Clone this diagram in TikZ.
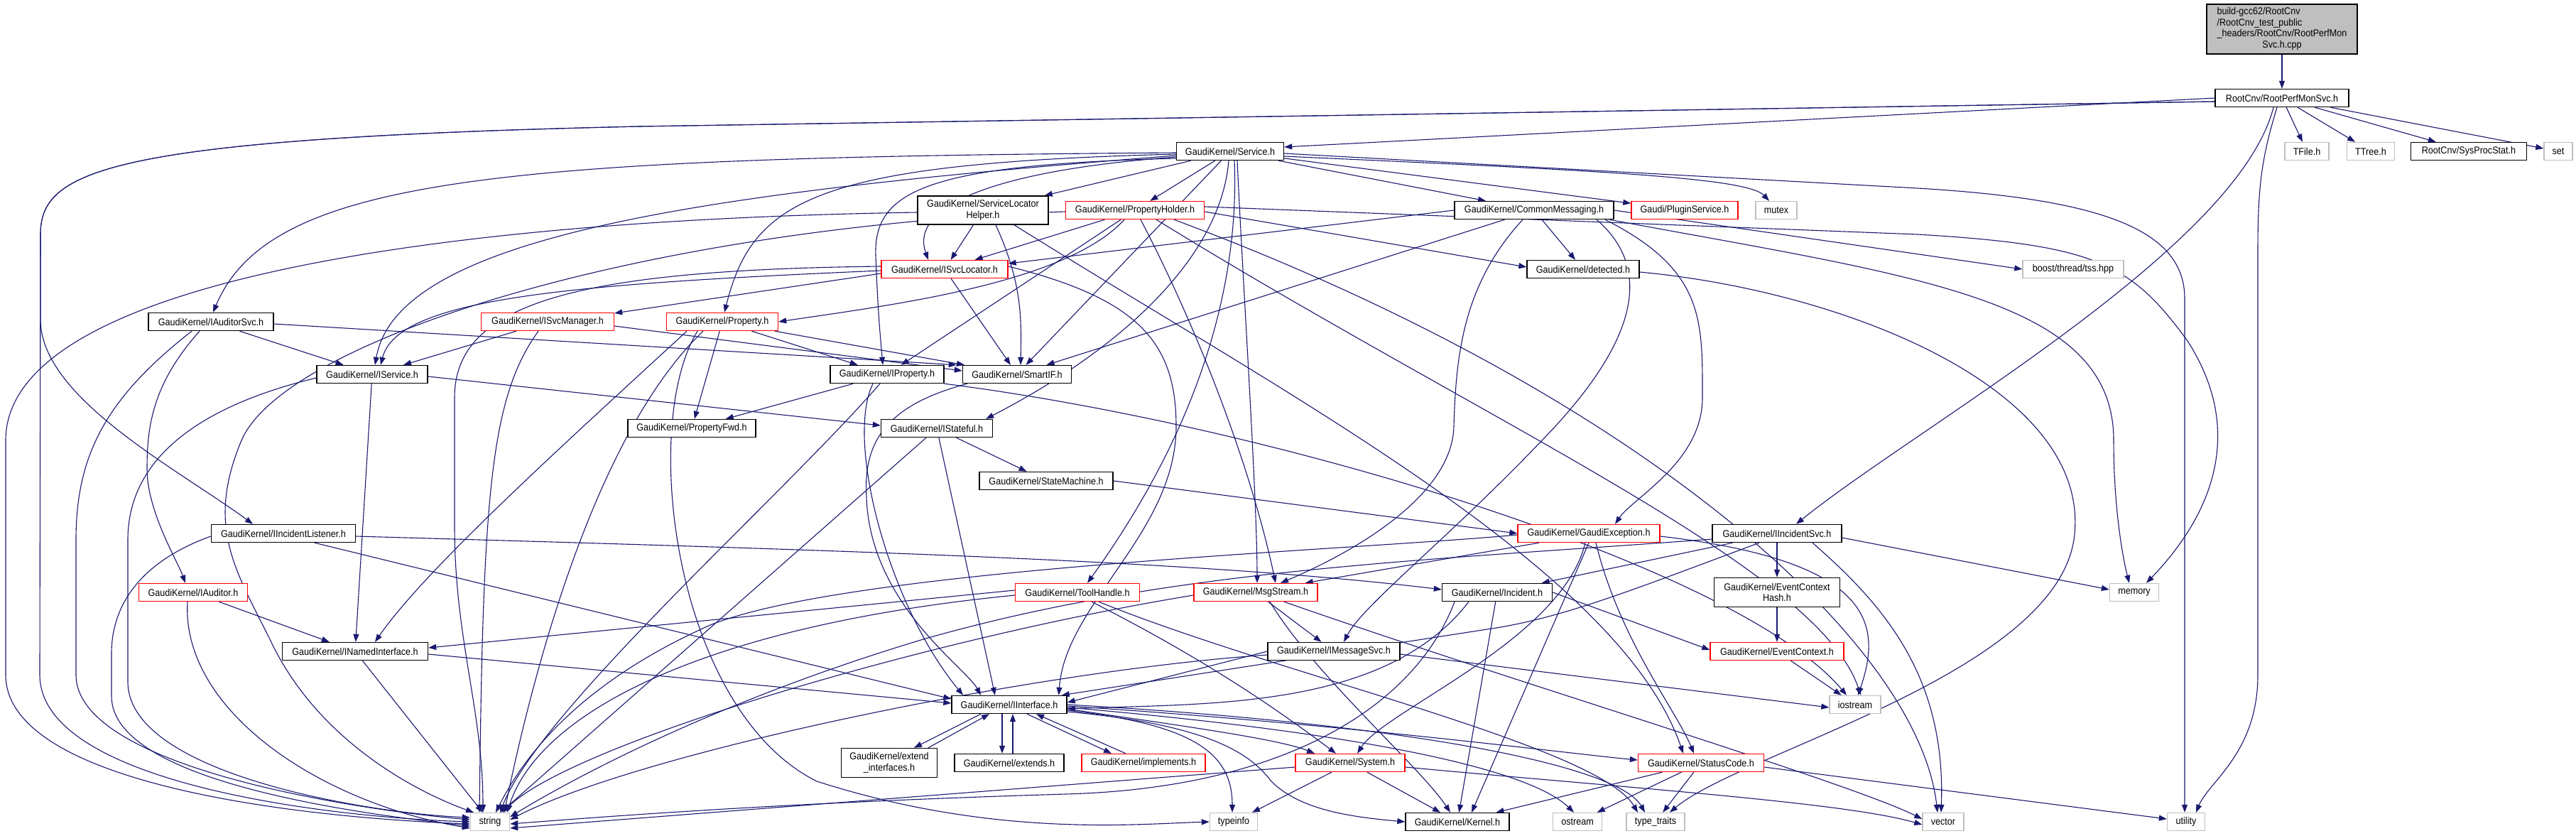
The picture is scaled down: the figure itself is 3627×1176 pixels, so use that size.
\documentclass[tikz,border=0pt]{standalone}
\usepackage{fontspec}
\newfontfamily\gf[FakeStretch=0.9]{Liberation Sans}
\usetikzlibrary{arrows.meta}
\definecolor{edgec}{RGB}{25,25,112}
\definecolor{grayb}{RGB}{191,191,191}
\newcommand\nfont{\gf\fontsize{14}{15.5}\selectfont}
\pgfdeclarelayer{bg}
\pgfdeclarelayer{edges}
\pgfsetlayers{bg,edges,main}
\tikzset{
 nb/.style={rectangle, draw=black, line width=1.4pt, fill=white, inner sep=0pt, minimum height=25pt, font=\nfont, align=center},
 rb/.style={nb, draw=red},
 gb/.style={nb, draw=grayb},
 e/.style={draw=edgec, line width=1.1pt, -{Triangle[length=11pt,width=8pt]}},
}
\begin{document}
\begin{tikzpicture}[x=1pt,y=-1pt]
\begin{pgfonlayer}{bg}
\fill[white] (0,0) rectangle (3627,1176);
\end{pgfonlayer}
\useasboundingbox (0,0) rectangle (3627,1176);
% nodes
\node[nb, fill=grayb, minimum width=212pt, minimum height=70pt] (top) at (3213,41) {\begin{tabular}{@{}l@{}}build-gcc62/RootCnv\\/RootCnv\_test\_public\\\_headers/RootCnv/RootPerfMon\\\multicolumn{1}{@{}c@{}}{Svc.h.cpp}\end{tabular}};
\node[nb, minimum width=188pt] (R) at (3213,138) {RootCnv/RootPerfMonSvc.h};
\node[gb, minimum width=62pt] (TFile) at (3248,213) {TFile.h};
\node[gb, minimum width=67pt] (TTree) at (3338,213) {TTree.h};
\node[nb, minimum width=163pt] (SPS) at (3476,213) {RootCnv/SysProcStat.h};
\node[gb, minimum width=40pt] (set) at (3602,213) {set};
\node[nb, minimum width=151pt] (S) at (1732,213) {GaudiKernel/Service.h};
\node[nb, minimum width=184pt, minimum height=40pt] (SLH) at (1384,296) {GaudiKernel/ServiceLocator\\Helper.h};
\node[rb, minimum width=195pt] (PH) at (1598,296) {GaudiKernel/PropertyHolder.h};
\node[nb, minimum width=224pt] (CM) at (2160,296) {GaudiKernel/CommonMessaging.h};
\node[rb, minimum width=150pt] (PS) at (2372,296) {Gaudi/PluginService.h};
\node[gb, minimum width=58pt] (mutex) at (2501,296) {mutex};
\node[rb, minimum width=178pt] (ISL) at (1330,379) {GaudiKernel/ISvcLocator.h};
\node[nb, minimum width=158pt] (det) at (2229,379) {GaudiKernel/detected.h};
\node[gb, minimum width=142pt] (tss) at (2919,379) {boost/thread/tss.hpp};
\node[nb, minimum width=176pt] (IAS) at (297,453) {GaudiKernel/IAuditorSvc.h};
\node[rb, minimum width=187pt] (ISM) at (771,453) {GaudiKernel/ISvcManager.h};
\node[rb, minimum width=157pt] (Prop) at (1017,453) {GaudiKernel/Property.h};
\node[nb, minimum width=156pt] (IS) at (524,527) {GaudiKernel/IService.h};
\node[nb, minimum width=160pt] (IP) at (1249,527) {GaudiKernel/IProperty.h};
\node[nb, minimum width=153pt] (SIF) at (1432,527) {GaudiKernel/SmartIF.h};
\node[nb, minimum width=180pt] (PF) at (974,603) {GaudiKernel/PropertyFwd.h};
\node[nb, minimum width=157pt] (IST) at (1319,603) {GaudiKernel/IStateful.h};
\node[nb, minimum width=188pt] (SM) at (1473,677) {GaudiKernel/StateMachine.h};
\node[nb, minimum width=203pt] (IIL) at (399,751) {GaudiKernel/IIncidentListener.h};
\node[rb, minimum width=200pt] (GE) at (2237,751) {GaudiKernel/GaudiException.h};
\node[nb, minimum width=182pt] (IISvc) at (2502,751) {GaudiKernel/IIncidentSvc.h};
\node[rb, minimum width=153pt] (IAud) at (272,834) {GaudiKernel/IAuditor.h};
\node[rb, minimum width=175pt] (TH) at (1517,834) {GaudiKernel/ToolHandle.h};
\node[rb, minimum width=174pt] (MS) at (1768,834) {GaudiKernel/MsgStream.h};
\node[nb, minimum width=155pt] (II) at (2108,834) {GaudiKernel/Incident.h};
\node[nb, minimum width=177pt, minimum height=41pt] (ECH) at (2502,834) {GaudiKernel/EventContext\\Hash.h};
\node[gb, minimum width=69pt] (mem) at (3005,834) {memory};
\node[nb, minimum width=205pt] (INI) at (500,917) {GaudiKernel/INamedInterface.h};
\node[nb, minimum width=186pt] (IMS) at (1878,917) {GaudiKernel/IMessageSvc.h};
\node[rb, minimum width=188pt] (EC) at (2502,917) {GaudiKernel/EventContext.h};
\node[nb, minimum width=162pt] (IF) at (1421,992) {GaudiKernel/IInterface.h};
\node[gb, minimum width=72pt] (ios) at (2612,992) {iostream};
\node[nb, minimum width=135pt, minimum height=41pt] (ext) at (1252,1074) {GaudiKernel/extend\\\_interfaces.h};
\node[nb, minimum width=154pt] (exts) at (1421,1074) {GaudiKernel/extends.h};
\node[rb, minimum width=174pt] (impl) at (1610,1074) {GaudiKernel/implements.h};
\node[rb, minimum width=154pt] (Sys) at (1901,1074) {GaudiKernel/System.h};
\node[rb, minimum width=177pt] (SC) at (2395,1074) {GaudiKernel/StatusCode.h};
\node[gb, minimum width=55pt] (str) at (690,1157) {string};
\node[gb, minimum width=67pt] (ti) at (1737,1157) {typeinfo};
\node[nb, minimum width=146pt] (K) at (2052,1157) {GaudiKernel/Kernel.h};
\node[gb, minimum width=69pt] (ost) at (2221,1157) {ostream};
\node[gb, minimum width=82pt] (tt) at (2331,1157) {type\_traits};
\node[gb, minimum width=58pt] (vec) at (2736,1157) {vector};
\node[gb, minimum width=53pt] (util) at (3078,1157) {utility};

\begin{pgfonlayer}{edges}
% top / R
\draw[e] (top) -- (R);
\draw[e] (R.west) -- ([yshift=6pt]S.east);
\draw[e] ([yshift=-5pt]R.west) -- (900,178) .. controls (150,195) and (57,240) .. (57,330) -- (57,450) .. controls (57,560) and (250,660) .. ([xshift=-43pt]IIL.north);
\draw[e] ([yshift=-5pt]R.west) -- (900,178) .. controls (150,195) and (57,240) .. (57,330) -- (56,950) .. controls (56,1100) and (450,1150) .. (str.west);
\draw[e] ([xshift=-12pt]R.south) .. controls (3150,350) and (2700,600) .. ([xshift=27pt]IISvc.north);
\draw[e] ([xshift=-7pt]R.south) .. controls (3185,220) and (3179,260) .. (3179,350) -- (3179,950) .. controls (3179,1060) and (3110,1100) .. ([xshift=14pt]util.north);
\draw[e] (R) -- (TFile);
\draw[e] (R) -- (TTree);
\draw[e] (R) -- (SPS);
\draw[e] (R) -- (set);
% Service.h
\draw[e] (S) -- (CM);
\draw[e] (S) -- (PS);
\draw[e] ([yshift=-7pt]S.east) .. controls (2250,240) and (2460,250) .. ([xshift=-10pt]mutex.north);
\draw[e] ([yshift=-3pt]S.east) -- (2700,265) .. controls (2950,280) and (3076,320) .. (3076,420) -- ([xshift=-2pt]util.north);
\draw[e] ([yshift=-2pt]S.west) .. controls (700,222) and (380,250) .. ([xshift=3pt]IAS.north);
\draw[e] ([yshift=-6pt]S.west) .. controls (1000,270) and (560,330) .. ([xshift=4pt]IS.north);
\draw[e] ([yshift=-8pt]S.west) .. controls (1400,240) and (1280,290) .. ([xshift=-23pt]ISL.north);
\draw[e] (S) -- (SLH);
\draw[e] (S) -- (PH);
\draw[e] ([yshift=-4pt]S.west) .. controls (1150,230) and (1060,280) .. ([xshift=3pt]Prop.north);
\draw[e] ([yshift=-10pt]S.west) .. controls (1300,232) and (1230,270) .. (1233,360) .. controls (1236,440) and (1240,480) .. ([xshift=-6pt]IP.north);
\draw[e] (S) -- (SIF);
\draw[e] ([xshift=-2pt]S.south) .. controls (1720,350) and (1600,480) .. ([xshift=-10pt]IST.north east);
\draw[e] ([xshift=6pt]S.south) .. controls (1745,400) and (1690,600) .. ([xshift=14pt]TH.north);
\draw[e] ([xshift=10pt]S.south) .. controls (1750,400) and (1770,700) .. ([xshift=2pt]MS.north);
% ServiceLocatorHelper
\draw[e] (SLH) -- (ISL);
\draw[e] ([xshift=18pt]SLH.south) .. controls (1440,400) and (1438,450) .. ([xshift=5pt]SIF.north);
\draw[e] ([xshift=44pt]SLH.south) .. controls (1800,550) and (2280,800) .. ([xshift=-25pt]SC.north);
\draw[e] ([yshift=-3pt]SLH.west) .. controls (600,310) and (8,400) .. (8,620) -- (8,950) .. controls (8,1100) and (400,1150) .. ([yshift=-3pt]str.west);
% PropertyHolder
\draw[e] (PH) -- (ISL);
\draw[e] ([xshift=-15pt]PH.south) .. controls (1500,400) and (1250,430) .. (Prop.east);
\draw[e] (PH) -- (IP);
\draw[e] ([xshift=8pt]PH.south) .. controls (1680,450) and (1760,650) .. ([xshift=28pt]MS.north);
\draw[e] ([yshift=-2pt]PH.east) -- ([yshift=3pt]det.west);
\draw[e] ([xshift=30pt]PH.south) .. controls (2100,600) and (2560,800) .. ([xshift=8pt]ios.north);
\draw[e] ([xshift=55pt]PH.south) .. controls (2300,550) and (2700,900) .. ([xshift=-8pt]vec.north);
\draw[e] ([yshift=5pt]PH.east) -- (2700,330) .. controls (2950,345) and (3000,370) .. (3080,480) .. controls (3170,620) and (3100,740) .. ([xshift=17pt]mem.north);
\draw[e] ([yshift=-2pt]PH.west) .. controls (900,320) and (400,480) .. (340,620) .. controls (290,740) and (330,800) .. (380,900) .. controls (450,1050) and (600,1120) .. ([xshift=-23pt]str.north);
% CommonMessaging
\draw[e] (CM.west) -- ([yshift=8pt]ISL.east);
\draw[e] (CM) -- (SIF);
\draw[e] ([xshift=-16pt]CM.south) .. controls (2060,400) and (2050,500) .. (2047,600) .. controls (2045,700) and (1900,780) .. ([xshift=35pt]MS.north);
\draw[e] (CM) -- (det);
\draw[e] ([xshift=88pt]CM.south) .. controls (2330,380) and (2300,480) .. (2190,600) .. controls (2050,750) and (1920,850) .. ([xshift=14pt]IMS.north);
\draw[e] ([xshift=100pt]CM.south) .. controls (2400,380) and (2397,450) .. (2397,560) .. controls (2397,650) and (2300,700) .. ([xshift=37pt]GE.north);
\draw[e] (CM.east) -- (tss.west);
\draw[e] ([xshift=106pt]CM.south) .. controls (2700,390) and (2976,420) .. (2976,620) .. controls (2976,720) and (2990,790) .. ([xshift=-7pt]mem.north);
% ISvcLocator
\draw[e] ([yshift=-6pt]ISL.west) -- ([yshift=12pt]ISM.east);
\draw[e] (ISL) -- (SIF);
\draw[e] ([yshift=4pt]ISL.west) .. controls (800,380) and (640,430) .. (640,560) -- (640,740) .. controls (640,900) and (680,1000) .. ([xshift=-10pt]str.north);
\draw[e] ([yshift=-2pt]ISL.west) .. controls (800,400) and (560,420) .. ([xshift=12pt]IS.north);
\draw[e] ([yshift=4pt]ISL.east) .. controls (1600,420) and (1656,480) .. (1656,600) .. controls (1656,750) and (1500,850) .. ([xshift=-12pt]IF.north east);
% ISvcManager
\draw[e] (ISM) -- (IS);
\draw[e] ([xshift=-13pt]ISM.south) .. controls (690,560) and (680,700) .. ([xshift=-15pt]str.north);
\draw[e] ([yshift=-6pt]ISM.east) -- ([yshift=5pt]SIF.west);
% IAuditorSvc
\draw[e] (IAS) -- (IS);
\draw[e] ([xshift=-16pt]IAS.south) .. controls (215,540) and (207,600) .. (207,660) .. controls (207,720) and (250,790) .. ([xshift=-11pt]IAud.north);
\draw[e] ([xshift=-27pt]IAS.south) .. controls (150,560) and (107,640) .. (107,760) -- (107,950) .. controls (107,1080) and (500,1140) .. ([yshift=3pt]str.west);
\draw[e] ([yshift=-3pt]IAS.east) -- ([xshift=-8pt]SIF.north west);
% IService
\draw[e] (IS) -- (INI);
\draw[e] ([yshift=-3pt]IS.east) -- ([yshift=4pt]IST.west);
\draw[e] ([yshift=-5pt]IS.west) .. controls (330,560) and (180,620) .. (180,760) -- (180,960) .. controls (180,1090) and (520,1145) .. ([yshift=6pt]str.west);
% IIncidentListener
\draw[e] ([yshift=-4pt]IIL.west) .. controls (200,790) and (157,850) .. (157,920) -- (157,980) .. controls (157,1100) and (500,1145) .. ([yshift=-6pt]str.west);
\draw[e] ([xshift=44pt]IIL.south) -- ([yshift=8pt]IF.west);
\draw[e] ([yshift=-4pt]IIL.east) .. controls (1200,775) and (1700,790) .. ([yshift=4pt]II.west);
% IAuditor
\draw[e] (IAud) -- (INI);
\draw[e] ([xshift=-8pt]IAud.south) .. controls (255,1000) and (450,1130) .. ([yshift=-9pt]str.west);
% INamedInterface
\draw[e] (INI) -- (str);
\draw[e] ([yshift=-4pt]INI.east) -- ([yshift=2pt]IF.west);
% Property
\draw[e] (Prop) -- (IP);
\draw[e] (Prop) -- (SIF);
\draw[e] (Prop) -- (PF);
\draw[e] ([xshift=-27pt]Prop.south) .. controls (850,600) and (760,900) .. ([xshift=20pt]str.north);
\draw[e] ([xshift=-35pt]Prop.south) .. controls (900,600) and (950,1000) .. (1150,1100) .. controls (1400,1180) and (1600,1160) .. (ti.west);
\draw[e] ([xshift=-50pt]Prop.south) .. controls (800,620) and (600,800) .. ([xshift=28pt]INI.north);
% IProperty
\draw[e] (IP) -- (PF);
\draw[e] ([xshift=-20pt]IP.south) .. controls (1190,620) and (1250,850) .. ([xshift=-65pt]IF.north);
\draw[e] ([xshift=-10pt]IP.south) .. controls (1100,700) and (760,1000) .. ([xshift=14pt]str.north);
\draw[e] (IP.south east) .. controls (1800,600) and (2450,800) .. ([xshift=-12pt]ios.north);
% SmartIF
\draw[e] ([xshift=-70pt]SIF.south) .. controls (1250,570) and (1215,620) .. (1220,700) .. controls (1225,850) and (1360,940) .. ([xshift=-40pt]IF.north);
% IStateful
\draw[e] (IST) -- (SM);
\draw[e] (IST) -- ([xshift=-20pt]IF.north);
\draw[e] (IST) -- (str);
\draw[e] (SM.east) -- (GE.west);
% ToolHandle
\draw[e] ([yshift=3pt]TH.west) -- ([yshift=5pt]INI.east);
\draw[e] ([yshift=-4pt]TH.west) .. controls (1000,880) and (760,1000) .. ([xshift=24pt]str.north);
\draw[e] ([xshift=20pt]TH.south) .. controls (1700,930) and (1800,1000) .. ([xshift=-20pt]Sys.north);
\draw[e] ([xshift=30pt]TH.south) .. controls (1800,950) and (2250,1050) .. ([xshift=-25pt]tt.north);
% MsgStream
\draw[e] (MS) -- (IMS);
\draw[e] ([yshift=-4pt]MS.west) .. controls (1300,900) and (800,1050) .. ([xshift=18pt]str.north);
\draw[e] ([xshift=40pt]MS.south) .. controls (2100,950) and (2600,1100) .. ([yshift=4pt]vec.west);
\draw[e] ([xshift=20pt]MS.south) .. controls (1850,950) and (2000,1080) .. ([xshift=-10pt]K.north);
% IMessageSvc
\draw[e] (IMS.west) -- ([yshift=3pt]IF.east);
\draw[e] ([yshift=-5pt]IMS.west) .. controls (1450,945) and (900,1060) .. ([yshift=3pt]str.east);
\draw[e] ([yshift=-4pt]IMS.east) -- ([yshift=-4pt]ios.west);
% Incident
\draw[e] ([xshift=-40pt]II.south) .. controls (1950,1000) and (1700,990) .. ([yshift=-6pt]IF.east);
\draw[e] (II) -- (K);
\draw[e] ([xshift=-60pt]II.south) .. controls (1990,1000) and (1800,1110) .. (1500,1118) .. controls (1100,1130) and (850,1150) .. ([yshift=-3pt]str.east);
\draw[e] (II.east) -- ([yshift=2pt]EC.west);
% IIncidentSvc
\draw[e] (IISvc) -- (II);
\draw[e] (IISvc) -- (ECH);
\draw[e] ([xshift=-25pt]IISvc.south) .. controls (2300,830) and (2200,870) .. (2100,885) -- ([xshift=-8pt]IF.north east);
\draw[e] ([yshift=-6pt]IISvc.east) -- ([yshift=4pt]mem.west);
\draw[e] ([xshift=50pt]IISvc.south) .. controls (2650,850) and (2740,950) .. ([xshift=-3pt]vec.north);
\draw[e] ([yshift=-8pt]IISvc.west) .. controls (2000,790) and (1650,800) .. (1300,900) .. controls (1000,990) and (800,1100) .. ([yshift=7pt]str.east);
\draw[e] (ECH) -- (EC);
\draw[e] (EC) -- (ios);
% GaudiException
\draw[e] ([yshift=-2pt]GE.west) .. controls (1900,775) and (1200,800) .. (1000,880) .. controls (820,960) and (740,1060) .. ([xshift=8pt]str.north);
\draw[e] ([xshift=-70pt]GE.south) -- ([xshift=-18pt]MS.north east);
\draw[e] ([xshift=-5pt]GE.south) .. controls (2200,900) and (1950,1000) .. ([xshift=10pt]Sys.north);
\draw[e] ([xshift=10pt]GE.south) .. controls (2280,900) and (2360,1000) .. ([xshift=-10pt]SC.north);
\draw[e] (GE.south) -- ([xshift=20pt]K.north);
\draw[e] ([yshift=-4pt]GE.east) .. controls (2640,790) and (2650,880) .. ([xshift=4pt]ios.north);
% System
\draw[e] (Sys) -- (K);
\draw[e] (Sys) -- (ti);
\draw[e] ([yshift=-6pt]Sys.west) -- ([yshift=-9pt]str.east);
\draw[e] ([yshift=-6pt]Sys.east) .. controls (2300,1110) and (2600,1130) .. ([yshift=-4pt]vec.west);
% StatusCode
\draw[e] (SC) -- (K);
\draw[e] (SC) -- (ost);
\draw[e] (SC) -- (tt);
\draw[e] ([yshift=-6pt]SC.east) -- ([yshift=4pt]util.west);
% IInterface
\draw[e] ([xshift=-40pt]IF.south) -- ([xshift=35pt]ext.north);
\draw[e] ([xshift=55pt]ext.north) -- ([xshift=-28pt]IF.south);
\draw[e] ([xshift=-10pt]IF.south) -- ([xshift=-10pt]exts.north);
\draw[e] ([xshift=5pt]exts.north) -- ([xshift=5pt]IF.south);
\draw[e] ([xshift=25pt]IF.south) -- ([xshift=-45pt]impl.north);
\draw[e] ([xshift=-25pt]impl.north) -- ([xshift=38pt]IF.south);
\draw[e] ([yshift=-6pt]IF.east) .. controls (1650,1020) and (1800,1040) .. ([xshift=-50pt]Sys.north);
\draw[e] ([yshift=-2pt]IF.east) .. controls (1900,1020) and (2200,1060) .. ([yshift=4pt]SC.west);
\draw[e] ([yshift=-10pt]IF.east) .. controls (1700,1020) and (1760,1060) .. (1790,1100) .. controls (1830,1140) and (1900,1150) .. (K.west);
\draw[e] ([yshift=-8pt]IF.east) .. controls (1680,1020) and (1735,1060) .. ([xshift=-2pt]ti.north);
\draw[e] ([yshift=-4pt]IF.east) .. controls (1900,1030) and (2150,1080) .. ([xshift=-5pt]ost.north);
\draw[e] (IF.east) .. controls (2000,1020) and (2280,1080) .. ([xshift=-15pt]tt.north);
% detected
\draw[e] ([yshift=-4pt]det.east) .. controls (2600,410) and (2950,550) .. (2920,760) .. controls (2890,950) and (2450,1060) .. ([xshift=20pt]tt.north);
\end{pgfonlayer}
\end{tikzpicture}
\end{document}
